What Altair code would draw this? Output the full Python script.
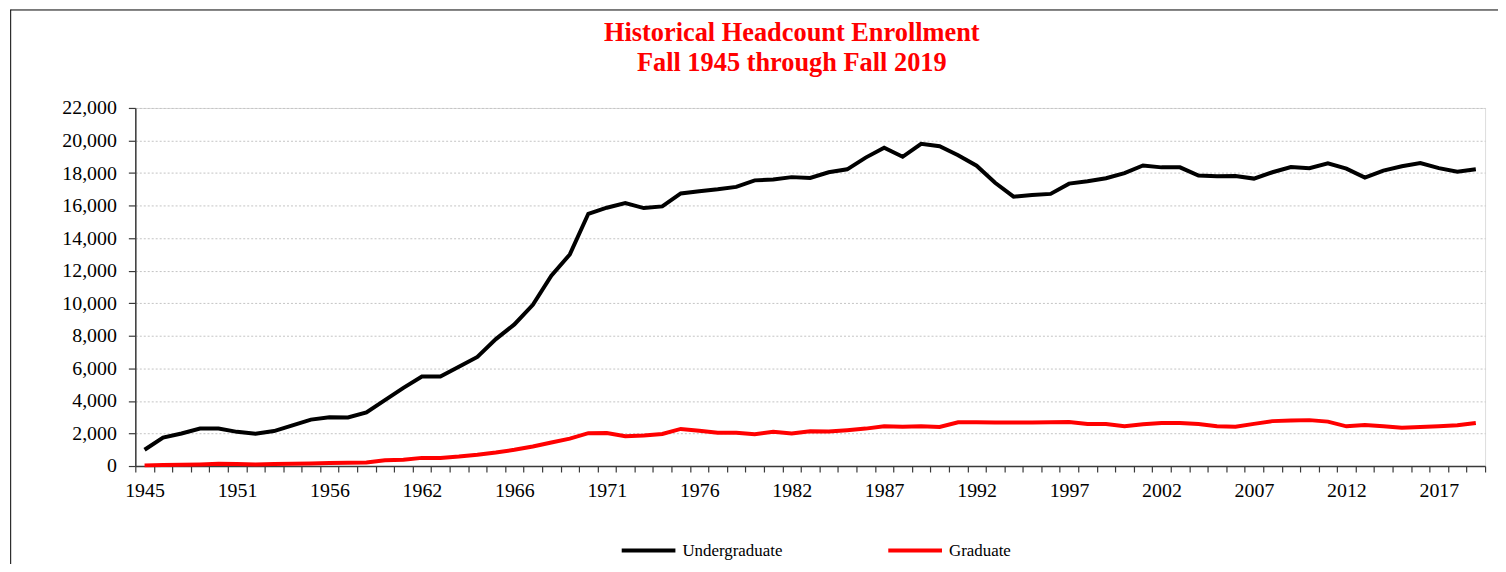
import altair as alt
import pandas as pd

# ---- data ----
series_names = ["Undergraduate", "Graduate"]
series_colors = ["#000000", "#ff0000"]

undergraduate = [1000, 1750, 2000, 2300, 2300, 2100, 1980, 2150, 2500, 2850,
                 3000, 2980, 3300, 4050, 4800, 5500, 5500, 6100, 6700, 7800,
                 8700, 9900, 11700, 13000, 15500, 15870, 16150, 15850, 15950, 16750,
                 16880, 17000, 17150, 17550, 17600, 17750, 17700, 18050, 18230, 18950,
                 19550, 19000, 19800, 19650, 19100, 18450, 17400, 16550, 16650, 16720,
                 17350, 17500, 17680, 18000, 18470, 18350, 18350, 17850, 17800, 17820,
                 17660, 18050, 18370, 18300, 18600, 18270, 17720, 18150, 18420, 18620,
                 18300, 18080, 18230]

graduate = [40, 60, 80, 100, 140, 120, 100, 120, 140, 160,
            180, 200, 220, 350, 380, 500, 500, 580, 690, 830,
            1000, 1200, 1450, 1680, 2020, 2030, 1830, 1870, 1970, 2280,
            2170, 2050, 2050, 1960, 2100, 2000, 2130, 2120, 2200, 2300,
            2450, 2420, 2440, 2400, 2690, 2690, 2680, 2670, 2670, 2690,
            2700, 2580, 2580, 2450, 2570, 2640, 2640, 2580, 2440, 2420,
            2590, 2760, 2800, 2820, 2730, 2440, 2520, 2450, 2350, 2400,
            2440, 2500, 2640]

# category-axis labels shown on every 5th category
tick_labels = ["1945", "1951", "1956", "1962", "1966", "1971", "1976", "1982",
               "1987", "1992", "1997", "2002", "2007", "2012", "2017"]
label_every = 5

y_ticks = list(range(0, 22001, 2000))

title_lines = ["Historical Headcount Enrollment", "Fall 1945 through Fall 2019"]

# ---- build table ----
n = len(undergraduate)
rows = []
for name, vals in zip(series_names, [undergraduate, graduate]):
    for i, v in enumerate(vals):
        rows.append({"idx": i, "series": name, "value": v})
df = pd.DataFrame(rows)

W, H = 1357, 360
cat_w = W / n
FONT = "Liberation Serif"

label_arr = "[" + ",".join("'%s'" % t for t in tick_labels) + "]"
label_expr = ("((datum.value + 0.5) %% %d === 0) ? %s[(datum.value + 0.5) / %d] : ''"
              % (label_every, label_arr, label_every))

x_enc = alt.X(
    "idx:Q",
    scale=alt.Scale(domain=[-0.5, n - 0.5], nice=False, zero=False),
    axis=alt.Axis(
        values=[k - 0.5 for k in range(n + 1)],
        labelExpr=label_expr,
        labelOffset=cat_w / 2,
        labelFlush=False,
        title=None, grid=False,
        tickSize=6, labelPadding=9,
        labelFontSize=20, labelFont=FONT, labelColor="#000000",
        domainColor="#3a3a3a", domainWidth=1.5,
        tickColor="#3a3a3a", tickWidth=1.2,
        labelAngle=0, labelOverlap=False,
    ),
)

y_enc = alt.Y(
    "value:Q",
    scale=alt.Scale(domain=[0, 22000], nice=False),
    axis=alt.Axis(
        values=y_ticks, format=",d", title=None,
        tickSize=7, labelPadding=12, labelFlush=False,
        labelFontSize=20, labelFont=FONT, labelColor="#000000",
        domainColor="#3a3a3a", domainWidth=1.5,
        tickColor="#3a3a3a", tickWidth=1.2,
        grid=True, gridColor="#c4c4c4", gridDash=[2, 2], gridWidth=1,
    ),
)

lines = alt.Chart(df).mark_line(strokeWidth=4).encode(
    x=x_enc,
    y=y_enc,
    color=alt.Color(
        "series:N",
        scale=alt.Scale(domain=series_names, range=series_colors),
        sort=series_names,
        legend=alt.Legend(
            title=None, orient="none", direction="horizontal",
            legendX=487, legendY=416,
            symbolType="stroke", symbolSize=2916, symbolStrokeWidth=4,
            labelFontSize=17, labelFont=FONT, labelColor="#000000",
            labelOffset=5, columnPadding=98,
        ),
    ),
    detail="series:N",
)

frame_data = alt.Data(values=[{"a": 1}])
frame_left = alt.Chart(frame_data).mark_rule(color="#000000", strokeWidth=1).encode(
    x=alt.value(-125.3), y=alt.value(-99), y2=alt.value(H + 110)
)
frame_top = alt.Chart(frame_data).mark_rule(color="#000000", strokeWidth=1).encode(
    x=alt.value(-125.3), x2=alt.value(W + 20), y=alt.value(-98.5)
)

chart = alt.layer(frame_left, frame_top, lines).properties(
    width=W, height=H,
    autosize=alt.AutoSizeParams(type="none"),
    padding={"left": 128, "top": 99, "right": 13, "bottom": 97},
    title=alt.TitleParams(
        text=title_lines, color="#ff0000", font=FONT, fontSize=26.5,
        fontWeight="bold", lineHeight=30, anchor="middle", frame="group",
        dx=-18.5, dy=55, offset=-34, baseline="alphabetic",
    ),
).configure_view(
    stroke="#8c8c8c", strokeWidth=2
).configure(background="#ffffff")

chart.save("out.html", embed_options={"renderer": "svg", "actions": False})
